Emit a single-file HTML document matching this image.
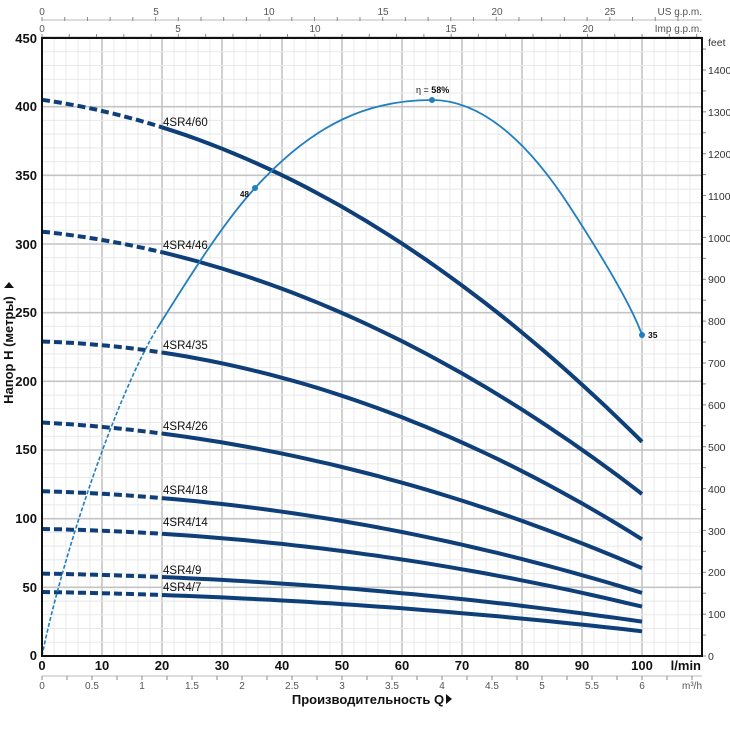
<!DOCTYPE html>
<html><head><meta charset="utf-8"><style>
html,body{margin:0;padding:0;background:#fff}
svg{display:block;font-family:"Liberation Sans",sans-serif}
.b{font-weight:bold;font-size:13px;fill:#111}
.s{font-size:10px;fill:#555}
.f{font-size:10.5px;fill:#333}
.l{font-size:11.5px;fill:#111}
</style></head><body>
<svg id="c" width="730" height="729" viewBox="0 0 730 729" xmlns="http://www.w3.org/2000/svg">
<g id="grid"></g>
<g id="ticks" stroke="#888" stroke-width="1"></g>
<g id="curves"></g>
<path d="M42 656 C62 556 118 391 158 327" fill="none" stroke="#1f7fc0" stroke-width="1.6" stroke-dasharray="4 2"/>
<path d="M158 327 C190 276 223 223 255 188 C315 122 370 100 432 100 C478 100 524 136 570 207 C594 244 630 301 642 335" fill="none" stroke="#1f7fc0" stroke-width="1.8"/>
<circle cx="255" cy="188" r="3" fill="#1f7fc0"/><circle cx="432" cy="100" r="3" fill="#1f7fc0"/><circle cx="642" cy="335" r="3" fill="#1f7fc0"/>
<rect x="42" y="38" width="660" height="618" fill="none" stroke="#111" stroke-width="2"/>
<g class="b" text-anchor="end">
<text x="37" y="43">450</text><text x="37" y="111">400</text><text x="37" y="180">350</text>
<text x="37" y="249">300</text><text x="37" y="317">250</text><text x="37" y="386">200</text>
<text x="37" y="454">150</text><text x="37" y="523">100</text><text x="37" y="592">50</text>
<text x="37" y="660">0</text>
</g>
<g class="b" text-anchor="middle">
<text x="42" y="670">0</text><text x="102" y="670">10</text><text x="162" y="670">20</text>
<text x="222" y="670">30</text><text x="282" y="670">40</text><text x="342" y="670">50</text>
<text x="402" y="670">60</text><text x="462" y="670">70</text><text x="522" y="670">80</text>
<text x="582" y="670">90</text><text x="642" y="670">100</text>
</g>
<text class="b" x="701" y="670" text-anchor="end" font-size="14">l/min</text>
<text class="b" x="368" y="704" text-anchor="middle">Производительность Q</text>
<path d="M446 694 L452 699 L446 704Z" fill="#111"/>
<text class="b" transform="translate(13,350) rotate(-90)" text-anchor="middle" font-size="12">Напор H (метры)</text>
<path d="M4 288 L9 282 L14 288Z" fill="#111"/>
<g class="s" text-anchor="middle">
<text x="42" y="689">0</text><text x="92" y="689">0.5</text><text x="142" y="689">1</text>
<text x="192" y="689">1.5</text><text x="242" y="689">2</text><text x="292" y="689">2.5</text>
<text x="342" y="689">3</text><text x="392" y="689">3.5</text><text x="442" y="689">4</text>
<text x="492" y="689">4.5</text><text x="542" y="689">5</text><text x="592" y="689">5.5</text>
<text x="642" y="689">6</text>
</g>
<text class="s" x="702" y="689" text-anchor="end">m³/h</text>
<g class="s" text-anchor="middle">
<text x="42" y="15">0</text><text x="156" y="15">5</text><text x="269" y="15">10</text>
<text x="383" y="15">15</text><text x="497" y="15">20</text><text x="610" y="15">25</text>
<text x="42" y="32">0</text><text x="178" y="32">5</text><text x="315" y="32">10</text>
<text x="451" y="32">15</text><text x="588" y="32">20</text>
</g>
<text class="s" x="702" y="15" text-anchor="end">US g.p.m.</text>
<text class="s" x="702" y="32" text-anchor="end">Imp g.p.m.</text>
<g class="f">
<text x="708" y="46">feet</text>
<text x="708" y="74">1400</text><text x="708" y="116">1300</text><text x="708" y="158">1200</text>
<text x="708" y="200">1100</text><text x="708" y="242">1000</text><text x="708" y="283">900</text>
<text x="708" y="325">800</text><text x="708" y="367">700</text><text x="708" y="409">600</text>
<text x="708" y="451">500</text><text x="708" y="493">400</text><text x="708" y="535">300</text>
<text x="708" y="576">200</text><text x="708" y="618">100</text><text x="708" y="660">0</text>
</g>
<g class="l">
<text x="163" y="126">4SR4/60</text><text x="163" y="249">4SR4/46</text>
<text x="163" y="349">4SR4/35</text><text x="163" y="430">4SR4/26</text>
<text x="163" y="494">4SR4/18</text><text x="163" y="526">4SR4/14</text>
<text x="163" y="574">4SR4/9</text><text x="163" y="591">4SR4/7</text>
</g>
<text x="240" y="197" font-size="8" font-weight="bold" fill="#111">48</text>
<text x="648" y="338" font-size="8.5" font-weight="bold" fill="#111">35</text>
<text x="416" y="93" font-size="9" fill="#111">η = <tspan font-weight="bold">58%</tspan></text>
</svg>
<script>
var NS="http://www.w3.org/2000/svg";
function el(p,t,a){var e=document.createElementNS(NS,t);for(var k in a)e.setAttribute(k,a[k]);p.appendChild(e);return e;}
var g=document.getElementById('grid'),tk=document.getElementById('ticks'),cv=document.getElementById('curves');
var X=function(q){return 42+6*q},K=1.3733,Y=function(h){return 656-h*K};
for(var q=0;q<=110;q+=2){var maj=q%10==0;el(g,'line',{x1:X(q),x2:X(q),y1:38,y2:656,stroke:maj?'#c4c4c4':'#e8e8e8','stroke-width':maj?1.6:1});}
for(var h=0;h<=450;h+=10){var maj=h%50==0;el(g,'line',{x1:42,x2:702,y1:Y(h),y2:Y(h),stroke:maj?'#c4c4c4':'#e8e8e8','stroke-width':maj?1.6:1});}
el(tk,'line',{x1:42,x2:702,y1:20,y2:20,stroke:'#bbb'});
for(var i=0;i<=28;i++){var x=42+6*3.7854*i;if(x>702)break;el(tk,'line',{x1:x,x2:x,y1:17,y2:21});}
el(tk,'line',{x1:42,x2:702,y1:37,y2:37,stroke:'#bbb'});
for(var i=0;i<=24;i++){var x=42+6*4.546*i;if(x>702)break;el(tk,'line',{x1:x,x2:x,y1:34,y2:38});}
el(tk,'line',{x1:42,x2:702,y1:676,y2:676,stroke:'#bbb'});
for(var i=0;i<=26;i++){var x=42+25*i;if(x>702)break;el(tk,'line',{x1:x,x2:x,y1:676,y2:680});}
for(var f=0;f<=1450;f+=50){var y=656-f/3.2808*K;if(y<38)break;el(tk,'line',{x1:702,x2:706,y1:y,y2:y});}
var P=[[405,.6275,.018625],[309,.46,.0145],[229,.14,.013],[170,.235,.00825],[120,.1275,.00613],[92.5,.0775,.00488],[60,.0688,.00281],[46.6,.066,.0022]];
P.forEach(function(p){
 function H(q){return p[0]-p[1]*q-p[2]*q*q}
 var d='',s='';
 for(var q=0;q<=20;q+=1)d+=(q?'L':'M')+X(q).toFixed(1)+' '+Y(H(q)).toFixed(1);
 for(var q=20;q<=100;q+=2)s+=(q>20?'L':'M')+X(q).toFixed(1)+' '+Y(H(q)).toFixed(1);
 el(cv,'path',{d:d,fill:'none',stroke:'#0f3f78','stroke-width':4,'stroke-dasharray':'8 4'});
 el(cv,'path',{d:s,fill:'none',stroke:'#0f3f78','stroke-width':4});
});
</script>
</body></html>
